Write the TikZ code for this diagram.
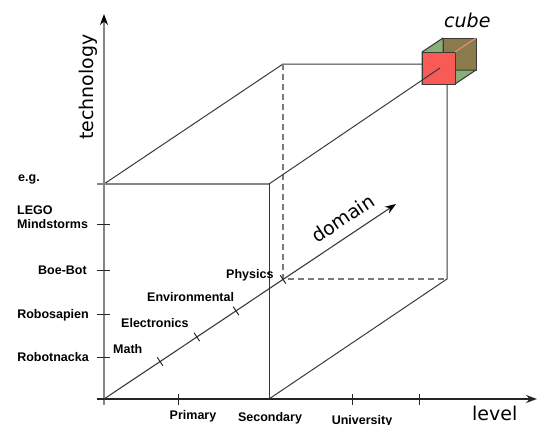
\documentclass[tikz,border=0pt]{standalone}
\usepackage{fontspec}
\setmainfont{Liberation Sans}
\newfontfamily\dejavu{DejaVu Sans}
\usetikzlibrary{arrows.meta,calc}
\definecolor{axisgray}{HTML}{858585}
\definecolor{linedark}{HTML}{3A3A3A}
\definecolor{dashgray}{HTML}{7A7A7A}
\definecolor{cubered}{HTML}{F85A55}
\definecolor{cubeolive}{HTML}{8B7B4B}
\definecolor{cubegreen}{HTML}{8AAE78}
\definecolor{cubepink}{HTML}{F08A86}
\begin{document}
\begin{tikzpicture}[x=1pt,y=-1pt,
  lbl/.style={font=\fontsize{12.5}{14}\selectfont\bfseries, inner sep=0pt},
  big/.style={font=\dejavu\fontsize{19}{22}\selectfont, inner sep=0pt},
  boxline/.style={draw=linedark, line width=1pt},
  frontline/.style={draw=black!80, line width=1pt},
  graytick/.style={draw=axisgray, line width=1.4pt},
  dashline/.style={draw=dashgray, line width=1.5pt, dash pattern=on 6pt off 4pt},
  yaxis/.style={draw=axisgray, line width=2pt, -{Stealth[length=11pt,width=8pt,color=black]}},
  xaxis/.style={draw=black!85, line width=1.4pt, -{Stealth[length=11pt,width=8pt]}},
  daxis/.style={draw=linedark, line width=1.1pt, -{Stealth[length=11pt,width=8pt,color=black]}},
  tickmark/.style={draw=black!85, line width=1pt},
  face/.style={draw=linedark, line width=1pt, line join=round}]
\useasboundingbox (0,0) rectangle (542,424);

% named points
\coordinate (O) at (104,399);
\coordinate (Ftl) at (104,184);
\coordinate (Ftr) at (269,184);
\coordinate (Fbr) at (269,399);
\coordinate (Btl) at (283,64);
\coordinate (Btr) at (447,64);
\coordinate (Bbl) at (283,279);
\coordinate (Bbr) at (447,279);
\coordinate (Ytop) at (104,14);
\coordinate (Ybot) at (104,405);
\coordinate (Xl) at (97,399);
\coordinate (Xr) at (537,399);
\coordinate (Tl) at (97,184);
\coordinate (D) at (396,204);
\coordinate (Cc) at (440,68);

% box
\draw[boxline] (Ftl) -- (Btl) -- (Btr) -- (Bbr) -- (Fbr);
\draw[dashline] (Btl) -- (Bbl) -- (Bbr);
\draw[graytick] (Tl) -- (Ftr);
\draw[frontline] (Ftr) -- (Fbr);

% axes
\draw[yaxis] (Ybot) -- (Ytop);
\draw[xaxis] (Xl) -- (Xr);
\draw[daxis] (O) -- (D);

% ticks
\foreach \yy in {224,270,314,357} \draw[tickmark] (97,\yy) -- (110,\yy);
\foreach \xx in {178,352,419} \draw[tickmark] (\xx,394) -- (\xx,405);
\foreach \t in {0.192,0.318,0.452,0.613}
  \draw[tickmark] ($(O)!\t!(D)$) ++(2.8,4.2) -- ++(-5.6,-8.4);

% technology labels
\node[lbl, anchor=base west] (eg) at (18,181) {e.g.};
\node[lbl, anchor=base west] (lego) at (17,214) {LEGO};
\node[lbl, anchor=base west] (mind) at (17,228) {Mindstorms};
\node[lbl, anchor=base east] (boe) at (87,274.5) {Boe-Bot};
\node[lbl, anchor=base east] (robos) at (89,318.5) {Robosapien};
\node[lbl, anchor=base east] (robot) at (89,361) {Robotnacka};

% domain labels
\node[lbl, anchor=base west] (math) at (113,353.5) {Math};
\node[lbl, anchor=base west] (elec) at (121,327.5) {Electronics};
\node[lbl, anchor=base west] (env) at (147,301) {Environmental};
\node[lbl, anchor=base west] (phys) at (226,278) {Physics};

% level labels
\node[lbl, anchor=base] (prim) at (193,419.5) {Primary};
\node[lbl, anchor=base] (sec) at (270,421.5) {Secondary};
\node[lbl, anchor=base] (univ) at (362,424) {University};

% axis names
\node[big, anchor=base west] (level) at (472,420) {level};
\node[big, anchor=base west, rotate=90] (tech) at (93,140) {technology};
\node[big, anchor=base west, rotate=33.7] (dom) at (317,244) {domain};
\node[big, anchor=base west, font=\dejavu\itshape\fontsize{19}{22}\selectfont] (cubelbl) at (444,27) {cube};

% cube
\coordinate (c1) at (422,52);
\coordinate (c2) at (455,52);
\coordinate (c3) at (455,84);
\coordinate (c4) at (422,84);
\coordinate (k1) at (443,38);
\coordinate (k2) at (476,38);
\coordinate (k3) at (476,70);
\coordinate (k4) at (443,70);
\filldraw[face, fill=cubeolive] (k1) -- (k2) -- (k3) -- (k4) -- cycle;
\filldraw[face, fill=cubegreen] (c1) -- (k1) -- (k4) -- (c4) -- cycle;
\filldraw[face, fill=cubegreen] (c4) -- (k4) -- (k3) -- (c3) -- cycle;
\filldraw[face, fill=cubered] (c1) -- (c2) -- (c3) -- (c4) -- cycle;
\draw[draw=cubepink, line width=1pt] (c2) -- (k2);
\draw[boxline] (Ftr) -- (Cc);
\end{tikzpicture}
\end{document}
